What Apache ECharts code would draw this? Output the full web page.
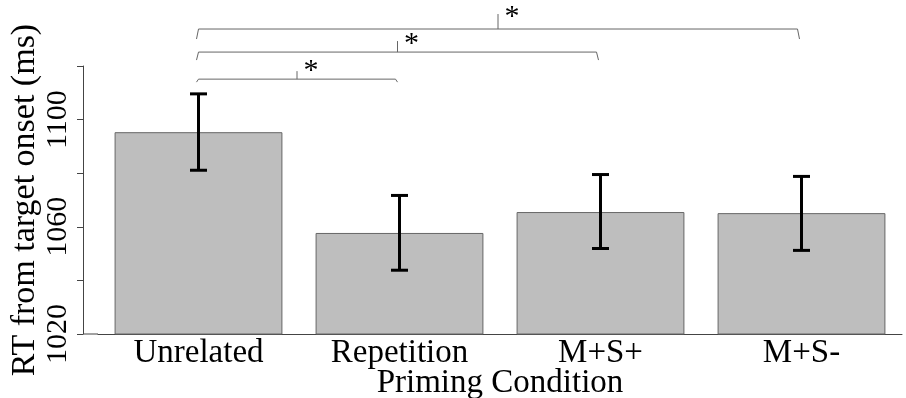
<!DOCTYPE html>
<html><head><meta charset="utf-8">
<script src="https://cdn.jsdelivr.net/npm/echarts@6/dist/echarts.min.js"></script>
<style>html,body{margin:0;padding:0;background:#fff}#c{width:906px;height:398px}</style>
</head><body><div id="c"></div>
<script>
// ---- data ----
const categories = ['Unrelated', 'Repetition', 'M+S+', 'M+S-'];
const meanRT  = [1095.3, 1057.7, 1065.5, 1065.1];
const lowerRT = [1081.1, 1043.8, 1051.9, 1051.2];
const upperRT = [1109.6, 1071.7, 1079.5, 1078.8];
const yLabelValues = [1020, 1060, 1100];
const bracketFrom  = [0, 0, 0];
const bracketTo    = [1, 2, 3];
const bracketLevel = [1115.1, 1125.2, 1133.8];
const bracketMark  = ['*', '*', '*'];

// ---- styles ----
const FONT = '"Liberation Serif", "Times New Roman", serif';
const gridLeft = 98, gridRight = 4, gridTop = 66, gridBottom = 64, yOffset = 15;
const endDrop = [3, 8, 10];
const midRise = [8, 11, 15];
const starRise = [11.5, 11, 15];

const chart = echarts.init(document.getElementById('c'), null, {renderer: 'canvas'});

const errData = categories.map((c, i) => [i, lowerRT[i], upperRT[i]]);
const brData = bracketFrom.map((f, i) => [f, bracketTo[i], bracketLevel[i], i]);

chart.setOption({
  animation: false,
  backgroundColor: '#fff',
  grid: {left: gridLeft, right: gridRight, top: gridTop, bottom: gridBottom,
         containLabel: false, outerBoundsMode: 'none'},
  xAxis: {
    type: 'category',
    data: categories,
    axisLine: {lineStyle: {color: '#444', width: 1}},
    axisTick: {alignWithLabel: true, length: 5, lineStyle: {color: '#444'}},
    axisLabel: {color: '#000', fontFamily: FONT, fontSize: 33, margin: 3, lineHeight: 33},
    name: 'Priming Condition',
    nameLocation: 'middle',
    nameGap: 33,
    nameMoveOverlap: false,
    nameTextStyle: {color: '#000', fontFamily: FONT, fontSize: 33, lineHeight: 33, verticalAlign: 'top'}
  },
  yAxis: {
    type: 'value',
    min: 1020, max: 1120, interval: 20,
    offset: yOffset,
    axisLine: {show: true, lineStyle: {color: '#444', width: 1}},
    axisTick: {show: true, length: 6, lineStyle: {color: '#444'}},
    splitLine: {show: false},
    axisLabel: {
      color: '#000', fontFamily: FONT, fontSize: 30, rotate: 90, margin: 10,
      formatter: v => yLabelValues.indexOf(v) >= 0 ? String(v) : ''
    },
    name: 'RT from target onset (ms)',
    nameLocation: 'middle',
    nameGap: 41,
    nameMoveOverlap: false,
    nameTextStyle: {color: '#000', fontFamily: FONT, fontSize: 34}
  },
  series: [
    {
      type: 'bar',
      data: meanRT,
      barWidth: '83.5%',
      itemStyle: {color: '#bebebe', borderColor: '#666', borderWidth: 1},
      z: 2
    },
    {
      type: 'custom',
      data: errData,
      encode: {x: 0, y: [1, 2]},
      z: 5,
      renderItem: (params, api) => {
        const lo = api.coord([api.value(0), api.value(1)]);
        const hi = api.coord([api.value(0), api.value(2)]);
        const hw = 8.5;
        const st = {stroke: '#000', lineWidth: 3};
        return {type: 'group', children: [
          {type: 'line', shape: {x1: lo[0], y1: lo[1], x2: hi[0], y2: hi[1]}, style: st},
          {type: 'line', shape: {x1: lo[0] - hw, y1: lo[1], x2: lo[0] + hw, y2: lo[1]}, style: st},
          {type: 'line', shape: {x1: hi[0] - hw, y1: hi[1], x2: hi[0] + hw, y2: hi[1]}, style: st}
        ]};
      }
    },
    {
      type: 'custom',
      data: brData,
      encode: {x: [0, 1], y: 2},
      clip: false,
      z: 6,
      renderItem: (params, api) => {
        const i = api.value(3);
        const a = api.coord([api.value(0), api.value(2)]);
        const b = api.coord([api.value(1), api.value(2)]);
        const y = a[1];
        const x0 = a[0] - 2, x1 = b[0] - 2;
        const mid = (x0 + x1) / 2;
        const st = {stroke: '#666', lineWidth: 1, fill: null};
        return {type: 'group', children: [
          {type: 'polyline', shape: {points: [[x0, y + endDrop[i]], [x0 + 2, y], [x1 - 2, y], [x1, y + endDrop[i]]]}, style: st},
          {type: 'line', shape: {x1: mid, y1: y, x2: mid, y2: y - midRise[i]}, style: st},
          {type: 'text', style: {text: bracketMark[i], x: mid + 14, y: y - starRise[i] + 3.4,
            align: 'center', verticalAlign: 'middle', fill: '#000', font: '30px ' + FONT}}
        ]};
      }
    }
  ],
  graphic: [{
    type: 'line',
    shape: {x1: gridLeft - yOffset, y1: 398 - gridBottom, x2: gridLeft, y2: 398 - gridBottom},
    style: {stroke: '#444', lineWidth: 1}
  }]
});
</script>
</body></html>
